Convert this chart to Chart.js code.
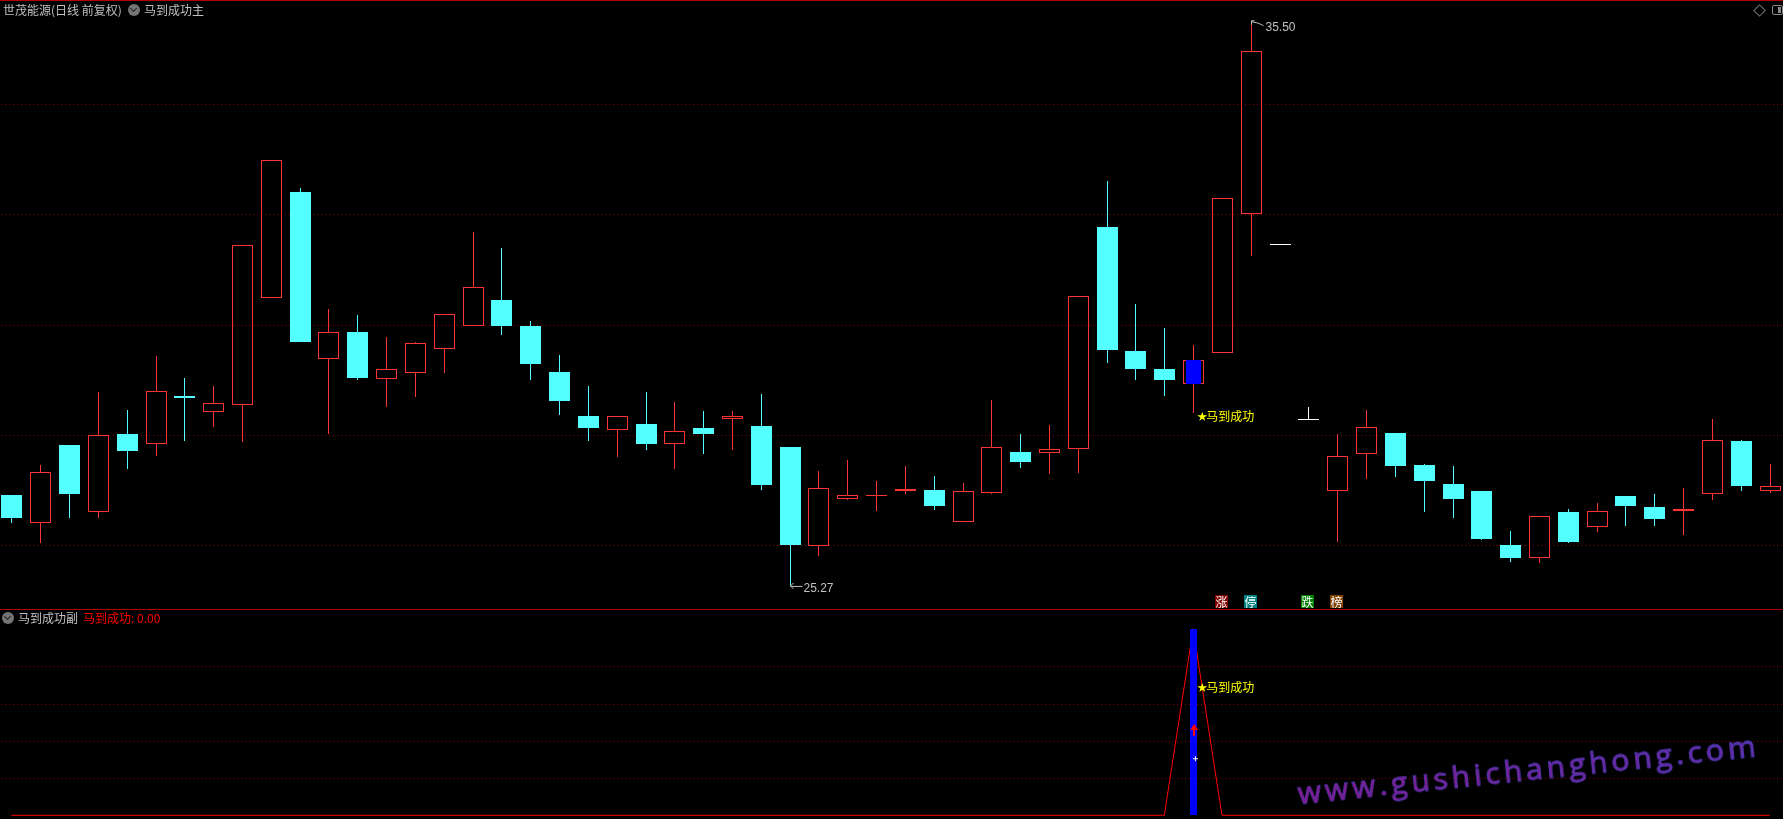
<!DOCTYPE html>
<html>
<head>
<meta charset="utf-8">
<title>世茂能源</title>
<script src="https://cdn.jsdelivr.net/npm/chart.js@4/dist/chart.umd.min.js"></script>
<style>
  html, body { margin: 0; padding: 0; background: #000; overflow: hidden; }
  #page { position: relative; width: 1783px; height: 819px; overflow: hidden; background: #000; font-family: "Noto Sans CJK SC", sans-serif; font-size: 12px; line-height: 14px; color: #c0c0c0; }
  #page canvas { position: absolute; left: -3px; }
  .rule { position: absolute; left: 0; width: 1783px; height: 1px; background: #b00000; }
  .txt { position: absolute; white-space: nowrap; }
  .dot { position: absolute; width: 12px; height: 12px; border-radius: 50%; background: #757575; }
  .dot:after { content: ""; position: absolute; left: 3px; top: 2px; width: 4px; height: 4px; border-right: 1px solid #222; border-bottom: 1px solid #222; transform: rotate(45deg); }
  #diamond { position: absolute; left: 1755px; top: 6px; width: 7px; height: 7px; border: 1px solid #777; transform: rotate(45deg); }
  #panelBtn { position: absolute; left: 1772px; top: 5px; width: 11px; height: 10px; border: 1px solid #888; border-radius: 2px; box-sizing: border-box; }
  #panelBtn:after { content: ""; position: absolute; left: 5px; top: 1px; width: 3px; height: 6px; background: #888; }
  #mark { position: absolute; left: 1299px; top: 774.4px; font-family: "Open Sans", sans-serif; font-weight: 500; font-size: 30px; line-height: 38px; letter-spacing: 4px; white-space: nowrap; transform-origin: 0 30.6px; transform: rotate(-5.95deg); background: linear-gradient(90deg, #9a1088, #6a2aa8); -webkit-background-clip: text; background-clip: text; color: transparent; -webkit-text-stroke: 0.8px #3c3cb0; }
</style>
</head>
<body>
<div id="page">
  <canvas id="mainChart" width="1787" height="609" style="top:0"></canvas>
  <canvas id="subChart" width="1787" height="210" style="top:609px"></canvas>

  <div class="rule" style="top:0"></div>
  <div class="rule" style="top:609px"></div>

  <div class="txt" style="left:3px;top:3px">世茂能源(日线 前复权)</div>
  <div class="dot" style="left:128px;top:4px"></div>
  <div class="txt" style="left:144px;top:3px">马到成功主</div>
  <div id="diamond"></div>
  <div id="panelBtn"></div>

  <div class="dot" style="left:2px;top:612px"></div>
  <div class="txt" style="left:18px;top:611px">马到成功副</div>
  <div class="txt" style="left:83px;top:611px;color:#ff0000">马到成功: 0.00</div>

  <div id="mark">www.gushichanghong.com</div>
</div>

<script>
// daily bars
var days = ['d01','d02','d03','d04','d05','d06','d07','d08','d09','d10','d11','d12','d13','d14','d15','d16','d17','d18','d19','d20','d21','d22','d23','d24','d25','d26','d27','d28','d29','d30','d31','d32','d33','d34','d35','d36','d37','d38','d39','d40','d41','d42','d43','d44','d45','d46','d47','d48','d49','d50','d51','d52','d53','d54','d55','d56','d57','d58','d59','d60','d61','d62'];

var openPrices  = [26.92,26.41,27.82,26.60,28.02,27.84,28.70,28.42,28.55,30.49,32.40,29.38,29.87,29.02,29.13,29.56,29.98,30.45,29.97,29.14,28.35,28.10,28.20,27.83,28.13,28.30,28.16,27.78,26.00,26.85,26.90,26.98,27.01,26.43,26.96,27.69,27.68,27.74,31.77,29.52,29.20,28.92,29.49,32.00,31.45,28.30,26.98,27.65,28.04,27.46,27.11,26.99,26.01,25.78,26.61,26.34,26.90,26.70,26.63,26.94,27.89,26.98];
var closePrices = [26.50,27.34,26.93,28.01,27.71,28.79,28.68,28.58,31.44,32.97,29.69,29.86,29.03,29.19,29.66,30.19,30.68,29.97,29.29,28.62,28.13,28.34,27.84,28.07,28.02,28.34,27.10,26.01,27.05,26.91,26.92,27.02,26.72,26.98,27.78,27.51,27.74,30.52,29.54,29.20,29.00,29.36,32.29,34.95,31.45,28.30,27.63,28.14,27.44,27.17,26.84,26.12,25.78,26.53,26.07,26.62,26.72,26.48,26.67,27.91,27.08,27.07];
var highPrices  = [26.92,27.46,27.82,28.78,28.45,29.43,29.03,28.89,31.44,32.97,32.47,30.28,30.17,29.78,29.69,30.19,31.68,31.39,30.07,29.45,28.89,28.34,28.78,28.60,28.44,28.44,28.74,27.78,27.35,27.55,27.17,27.44,27.26,27.13,28.64,28.02,28.18,30.52,32.60,30.37,29.94,29.63,32.29,35.50,31.45,28.51,28.02,28.45,28.04,27.48,27.44,26.99,26.26,26.53,26.66,26.77,26.90,26.93,27.04,28.29,27.91,27.48];
var lowPrices   = [26.41,26.05,26.50,26.50,27.39,27.62,27.89,28.15,27.88,30.49,29.69,28.02,29.00,28.51,28.69,29.12,29.98,29.81,29.00,28.36,27.89,27.60,27.73,27.39,27.66,27.73,27.01,25.27,25.81,26.83,26.63,26.93,26.64,26.43,26.93,27.40,27.30,27.31,29.30,29.00,28.71,28.40,29.48,31.25,31.45,28.30,26.07,27.21,27.24,26.61,26.50,26.10,25.70,25.69,26.05,26.25,26.35,26.35,26.19,26.83,26.99,26.95];

// price levels of the dotted lines
var gridPrices = [33.98, 31.99, 29.99, 27.99, 26.00];
var priceMin = 24.852;
var priceMax = 35.875;

// bars drawn white in the source (flat limit days)
var whiteDays = [44, 45];

// the signal day and its indicator values
var signalDay = 41;
var signalStar = '★';
var signalLabel = '马到成功';
var signalPrice = 28.34;
var highDay = 43;
var lowDay = 27;
var highText = '35.50';
var lowText = '25.27';

var tagDays   = [42, 43, 45, 46];
var tagTexts  = ['涨', '停', '跌', '榜'];
var tagColors = ['#800000', '#008080', '#008000', '#804000'];

var indicatorValues = [0,0,0,0,0,0,0,0,0,0,0,0,0,0,0,0,0,0,0,0,0,0,0,0,0,0,0,0,0,0,0,0,0,0,0,0,0,0,0,0,0,1,0,0,0,0,0,0,0,0,0,0,0,0,0,0,0,0,0,0,0,0];
var subGrid = [0.197, 0.395, 0.594, 0.798];
var subMin = -0.0198;
var subMax = 1.106;
var subLabelValue = 0.685;
var subArrowValue = 0.49;
var subPlusValue = 0.306;

var RED = '#ff3232', CYAN = '#54ffff', GRID = '#8c0000', GREY = '#c0c0c0';

function isWhite(i) { return whiteDays.indexOf(i) >= 0; }

function bodyColor(i) {
  if (isWhite(i)) return '#ffffff';
  return closePrices[i] >= openPrices[i] ? RED : CYAN;
}

// one dataset per drawn part, the first one ends up on top
var bodyData = days.map(function (d, i) { return [openPrices[i], closePrices[i]]; });
var upperData = days.map(function (d, i) { return [Math.max(openPrices[i], closePrices[i]), highPrices[i]]; });
var lowerData = days.map(function (d, i) { return [lowPrices[i], Math.min(openPrices[i], closePrices[i])]; });
var blueData = days.map(function (d, i) { return i === signalDay ? bodyData[i] : null; });
var subBlue = days.map(function (d, i) { return i === signalDay ? [0, 1] : null; });

function barSet(data, thick, fill, border) {
  return {
    type: 'bar',
    data: data,
    grouped: false,
    barThickness: thick,
    maxBarThickness: thick,
    categoryPercentage: 1,
    barPercentage: 1,
    backgroundColor: fill,
    borderColor: border,
    borderWidth: thick > 1 ? 1 : 0,
    borderSkipped: false,
    inflateAmount: 0
  };
}

function gridAxis(min, max, ticks) {
  return {
    min: min,
    max: max,
    afterBuildTicks: function (scale) {
      scale.ticks = ticks.map(function (v) { return { value: v }; });
    },
    afterFit: function (scale) { scale.width = 0; },
    ticks: { display: false },
    grid: { color: GRID, lineWidth: 1, drawTicks: false },
    border: { display: false, dash: [1, 3] }
  };
}

// keep thin bars on whole pixels, the source has no antialiasing
var snapBars = {
  id: 'snapBars',
  beforeDatasetsDraw: function (chart) {
    chart.getSortedVisibleDatasetMetas().forEach(function (meta) {
      if (meta.type !== 'bar') return;
      meta.data.forEach(function (el) {
        el.x = Math.round(el.x) + 0.5;
        el.y = Math.round(el.y);
        el.base = Math.round(el.base);
        // flat bodies still need one row, flat wicks stay hidden
        if (el.y === el.base && el.width > 1) el.base = el.y + 1;
      });
    });
  }
};

var mainMarks = {
  id: 'mainMarks',
  afterDatasetsDraw: function (chart) {
    var ctx = chart.ctx, xs = chart.scales.x, ys = chart.scales.y;
    var hx = Math.round(xs.getPixelForValue(highDay)) + 0.5, hy = ys.getPixelForValue(highPrices[highDay]);
    var lx = Math.round(xs.getPixelForValue(lowDay)) + 0.5, ly = ys.getPixelForValue(lowPrices[lowDay]);
    var sx = xs.getPixelForValue(signalDay), sy = ys.getPixelForValue(signalPrice);
    ctx.save();
    ctx.strokeStyle = GREY;
    ctx.lineWidth = 1;
    ctx.beginPath();
    ctx.moveTo(hx, hy + 4);
    ctx.lineTo(hx, hy);
    ctx.lineTo(hx + 3, hy);
    ctx.moveTo(hx, hy + 1);
    ctx.lineTo(hx + 5, hy + 2);
    ctx.lineTo(hx + 8, hy + 3);
    ctx.lineTo(hx + 12, hy + 5);
    ctx.moveTo(lx + 3, ly - 3);
    ctx.lineTo(lx, ly);
    ctx.lineTo(lx + 3, ly + 3);
    ctx.moveTo(lx, ly + 0.5);
    ctx.lineTo(lx + 12, ly + 0.5);
    ctx.stroke();

    ctx.fillStyle = GREY;
    ctx.font = '12px "Liberation Sans"';
    ctx.textBaseline = 'middle';
    ctx.fillText(highText, hx + 14, hy + 7);
    ctx.fillText(lowText, lx + 13, ly + 3);

    ctx.fillStyle = '#ffff00';
    ctx.font = '10px "Noto Sans CJK SC"';
    ctx.fillText(signalStar, sx + 4, sy);
    ctx.font = '12px "Noto Sans CJK SC"';
    ctx.fillText(signalLabel, sx + 13, sy);

    tagDays.forEach(function (d, i) {
      var x = Math.round(xs.getPixelForValue(d)) - 7;
      ctx.fillStyle = tagColors[i];
      ctx.fillRect(x, chart.chartArea.bottom - 14, 13, 13);
      ctx.fillStyle = '#ffffff';
      ctx.fillText(tagTexts[i], x + 0.5, chart.chartArea.bottom - 7);
    });
    ctx.restore();
  }
};

var subMarks = {
  id: 'subMarks',
  afterDatasetsDraw: function (chart) {
    var ctx = chart.ctx, xs = chart.scales.x, ys = chart.scales.y;
    var x = xs.getPixelForValue(signalDay);
    var ay = ys.getPixelForValue(subArrowValue), py = ys.getPixelForValue(subPlusValue);
    var ly = ys.getPixelForValue(subLabelValue);
    ctx.save();
    ctx.fillStyle = '#ff0000';
    ctx.beginPath();
    ctx.moveTo(x + 1, ay);
    ctx.lineTo(x + 5, ay + 6);
    ctx.lineTo(x - 3, ay + 6);
    ctx.closePath();
    ctx.fill();
    ctx.fillRect(Math.floor(x), ay + 5, 2, 7);
    ctx.fillStyle = '#ffffff';
    ctx.fillRect(Math.floor(x) + 2, py - 2, 1, 5);
    ctx.fillRect(Math.floor(x), py, 5, 1);
    ctx.fillStyle = '#ffff00';
    ctx.textBaseline = 'middle';
    ctx.font = '10px "Noto Sans CJK SC"';
    ctx.fillText(signalStar, x + 4, ly);
    ctx.font = '12px "Noto Sans CJK SC"';
    ctx.fillText(signalLabel, x + 13, ly);
    ctx.restore();
  }
};

var baseOptions = {
  responsive: false,
  animation: false,
  layout: { padding: 0 },
  plugins: { legend: { display: false }, tooltip: { enabled: false } }
};

function xAxis() {
  return { display: false, offset: true, grid: { display: false } };
}

new Chart(document.getElementById('mainChart'), {
  data: {
    labels: days,
    datasets: [
      barSet(blueData, 15, '#0000ff', '#0000ff'),
      barSet(bodyData, 21, days.map(function (d, i) { return bodyColor(i) === CYAN ? CYAN : 'transparent'; }), days.map(function (d, i) { return bodyColor(i); })),
      barSet(upperData, 1, days.map(function (d, i) { return bodyColor(i); }), 'transparent'),
      barSet(lowerData, 1, days.map(function (d, i) { return bodyColor(i); }), 'transparent')
    ]
  },
  options: Object.assign({}, baseOptions, {
    scales: { x: xAxis(), y: gridAxis(priceMin, priceMax, gridPrices) }
  }),
  plugins: [snapBars, mainMarks]
});

new Chart(document.getElementById('subChart'), {
  data: {
    labels: days,
    datasets: [
      barSet(subBlue, 7, '#0000ff', '#0000ff'),
      {
        type: 'line',
        data: indicatorValues,
        borderColor: '#ff0000',
        borderWidth: 1,
        pointRadius: 0,
        tension: 0
      }
    ]
  },
  options: Object.assign({}, baseOptions, {
    scales: { x: xAxis(), y: gridAxis(subMin, subMax, subGrid) }
  }),
  plugins: [snapBars, subMarks]
});
</script>
</body>
</html>
